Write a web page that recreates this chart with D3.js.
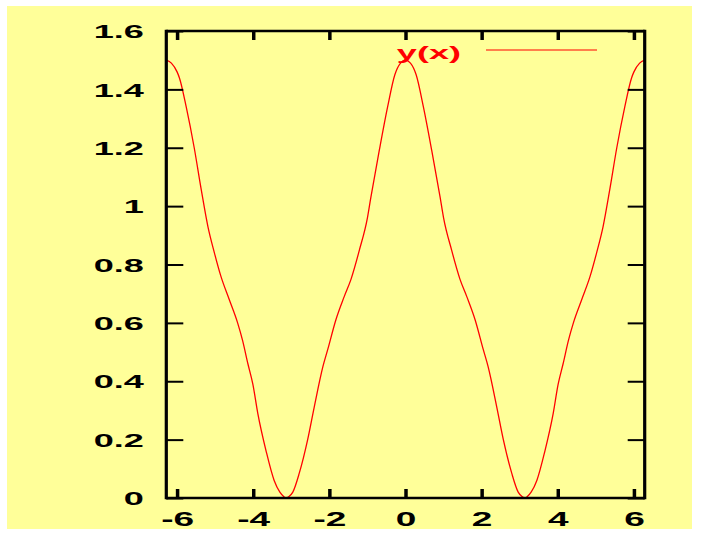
<!DOCTYPE html>
<html>
<head>
<meta charset="utf-8">
<script src="https://cdn.jsdelivr.net/npm/d3@7"></script>
<style>
  html, body { margin: 0; padding: 0; background: #ffffff; }
  svg { display: block; }
</style>
</head>
<body>
<svg id="chart" width="702" height="535"></svg>
<script>
// Sampled curve y(x) over one full range [-2π, 2π]
const xValues = [
  -6.28, -6.15, -6.00, -5.94, -5.76, -5.55, -5.37, -5.19, -5.02, -4.85, -4.63,
  -4.41, -4.28, -4.14, -4.01, -3.88, -3.66, -3.45, -3.30, -3.20, -3.14, -3.06, -2.96,
  -2.79, -2.57, -2.40, -2.17, -2.04, -1.83, -1.61, -1.43, -1.21, -1.00,
  -0.91, -0.69, -0.47, -0.28, -0.13, 0.00, 0.13, 0.28, 0.47, 0.69, 0.91, 1.00,
  1.21, 1.43, 1.61, 1.83, 2.04, 2.17, 2.40, 2.57, 2.79, 2.96, 3.06,
  3.14, 3.20, 3.30, 3.45, 3.66, 3.88, 4.01, 4.14, 4.28, 4.41, 4.63,
  4.85, 5.02, 5.19, 5.37, 5.55, 5.76, 5.94, 6.00, 6.15, 6.28
];
const yValues = [
  1.50, 1.49, 1.46, 1.44, 1.34, 1.20, 1.06, 0.93, 0.84, 0.76, 0.68,
  0.60, 0.54, 0.46, 0.39, 0.29, 0.16, 0.06, 0.02, 0.005, 0.00, 0.005, 0.02,
  0.085, 0.20, 0.31, 0.45, 0.51, 0.61, 0.69, 0.75, 0.85, 0.96,
  1.03, 1.19, 1.34, 1.45, 1.49, 1.50, 1.49, 1.45, 1.34, 1.19, 1.03, 0.96,
  0.85, 0.75, 0.69, 0.61, 0.51, 0.45, 0.31, 0.20, 0.085, 0.02, 0.005,
  0.00, 0.005, 0.02, 0.06, 0.16, 0.29, 0.39, 0.46, 0.54, 0.60, 0.68,
  0.76, 0.84, 0.93, 1.06, 1.20, 1.34, 1.44, 1.46, 1.49, 1.50
];
const seriesName = "y(x)";

const xTicks = [-6, -4, -2, 0, 2, 4, 6];
const xTickLabels = ["-6", "-4", "-2", "0", "2", "4", "6"];
const yTicks = [0, 0.2, 0.4, 0.6, 0.8, 1, 1.2, 1.4, 1.6];
const yTickLabels = ["0", "0.2", "0.4", "0.6", "0.8", "1", "1.2", "1.4", "1.6"];

(function () {
  const svg = d3.select("#chart");
  const fontFamily = "'Liberation Sans', Arial, Helvetica, sans-serif";
  const stretchY = 1.95;   // horizontally widened glyphs
  const stretchX = 1.85;

  // page background
  svg.append("rect").attr("x", 7).attr("y", 6).attr("width", 685).attr("height", 523)
    .attr("fill", "#ffff99");

  const pLeft = 166.3, pRight = 644.7, pTop = 31, pBottom = 498;
  const x = d3.scaleLinear().domain([-2 * Math.PI, 2 * Math.PI]).range([pLeft, pRight]);
  const y = d3.scaleLinear().domain([0, 1.6]).range([pBottom, pTop]);

  // curve, clipped to the plot frame
  svg.append("clipPath").attr("id", "plotclip")
    .append("rect").attr("x", pLeft).attr("y", pTop)
    .attr("width", pRight - pLeft).attr("height", pBottom - pTop);

  const line = d3.line()
    .curve(d3.curveMonotoneX)
    .x((d, i) => x(xValues[i])).y((d, i) => y(yValues[i]));
  svg.append("path")
    .datum(yValues)
    .attr("clip-path", "url(#plotclip)")
    .attr("fill", "none")
    .attr("stroke", "#ff0000")
    .attr("stroke-width", 1.3)
    .attr("stroke-linejoin", "round")
    .attr("d", line);

  // axes with inward ticks
  function styleAxis(g, width) {
    g.select(".domain").remove();
    g.selectAll(".tick line").attr("stroke", "#000").attr("stroke-width", width);
  }

  const xLabel = d => xTickLabels[xTicks.indexOf(d)];
  const yLabel = d => yTickLabels[yTicks.indexOf(d)];

  const gBottom = svg.append("g").attr("transform", `translate(0,${pBottom})`)
    .call(d3.axisBottom(x).tickValues(xTicks).tickSize(-9).tickFormat(xLabel));
  styleAxis(gBottom, 3.5);
  gBottom.selectAll(".tick text")
    .attr("y", 28).attr("dy", 0)
    .attr("transform", `scale(${stretchX},1)`)
    .attr("fill", "#000")
    .style("font-family", fontFamily).style("font-weight", "bold").style("font-size", "20px");

  const gTop = svg.append("g").attr("transform", `translate(0,${pTop})`)
    .call(d3.axisTop(x).tickValues(xTicks).tickSize(-9).tickFormat(""));
  styleAxis(gTop, 3.5);

  const gLeft = svg.append("g").attr("transform", `translate(${pLeft},0)`)
    .call(d3.axisLeft(y).tickValues(yTicks).tickSize(-17).tickFormat(yLabel));
  styleAxis(gLeft, 2);
  gLeft.selectAll(".tick text")
    .attr("x", -22.5 / stretchY).attr("dy", "0.36em")
    .attr("transform", `scale(${stretchY},1)`)
    .attr("fill", "#000")
    .style("font-family", fontFamily).style("font-weight", "bold").style("font-size", "18.5px");

  const gRight = svg.append("g").attr("transform", `translate(${pRight},0)`)
    .call(d3.axisRight(y).tickValues(yTicks).tickSize(-17).tickFormat(""));
  styleAxis(gRight, 2);

  // plot frame
  svg.append("line").attr("x1", pLeft).attr("x2", pRight).attr("y1", pTop).attr("y2", pTop)
    .attr("stroke", "#000").attr("stroke-width", 2.6);
  svg.append("line").attr("x1", pLeft).attr("x2", pRight).attr("y1", pBottom).attr("y2", pBottom)
    .attr("stroke", "#000").attr("stroke-width", 2.6);
  svg.append("line").attr("x1", pLeft).attr("x2", pLeft).attr("y1", pTop - 1.3).attr("y2", pBottom + 1.3)
    .attr("stroke", "#000").attr("stroke-width", 3.2);
  svg.append("line").attr("x1", pRight).attr("x2", pRight).attr("y1", pTop - 1.3).attr("y2", pBottom + 1.3)
    .attr("stroke", "#000").attr("stroke-width", 3.2);

  // key
  const key = svg.append("g");
  key.append("g").attr("transform", `translate(461,59) scale(${stretchY},1)`)
    .append("text")
    .attr("text-anchor", "end")
    .attr("fill", "#ff0000")
    .style("font-family", fontFamily).style("font-weight", "bold").style("font-size", "18.5px")
    .text(seriesName);
  key.append("line").attr("x1", 486).attr("x2", 597).attr("y1", 50).attr("y2", 50)
    .attr("stroke", "#ff0000").attr("stroke-width", 1.1);
})();
</script>
</body>
</html>
